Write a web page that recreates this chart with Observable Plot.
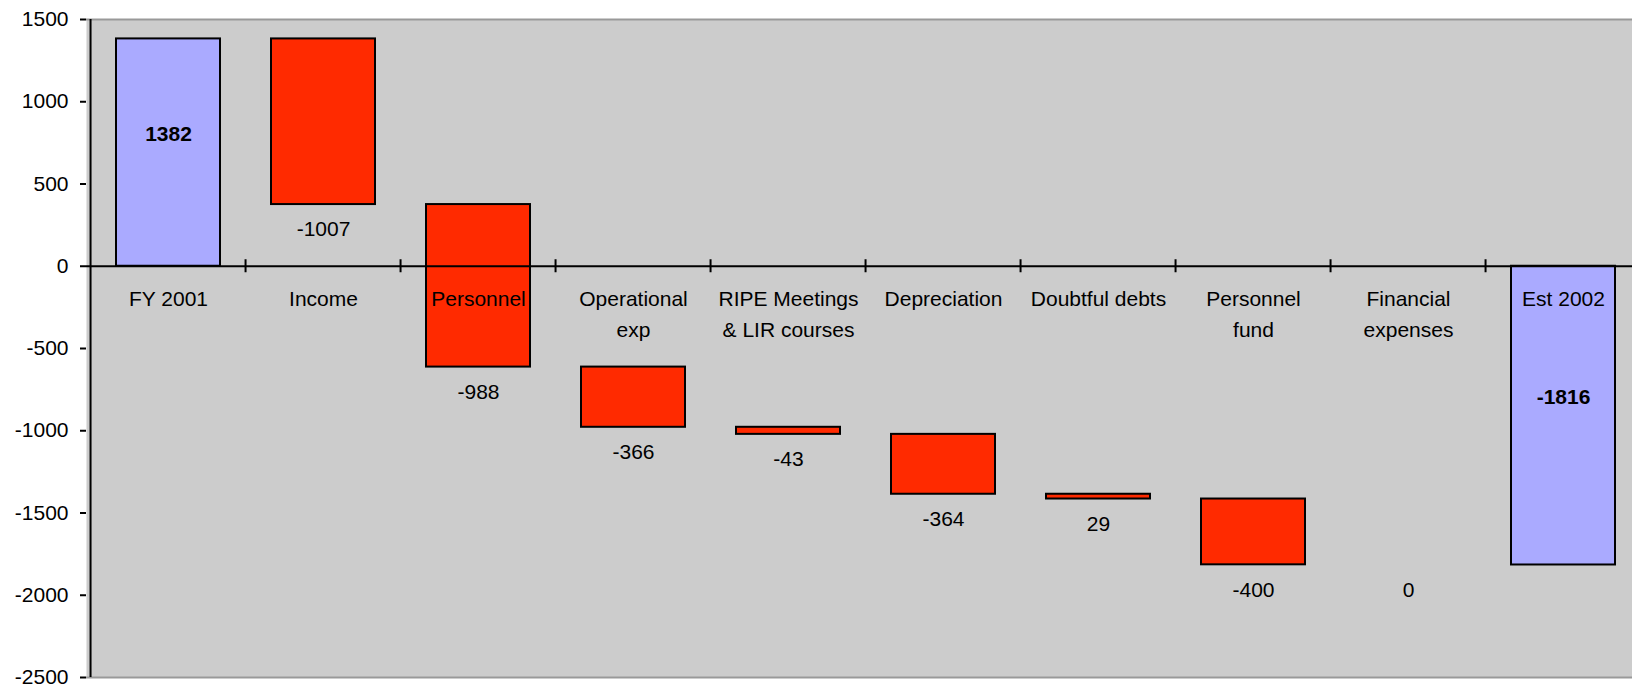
<!DOCTYPE html>
<html><head><meta charset="utf-8">
<script src="https://cdn.jsdelivr.net/npm/d3@7"></script>
<script src="https://cdn.jsdelivr.net/npm/@observablehq/plot@0.6"></script>
<style>body{margin:0;background:#fff;} svg{display:block;}</style>
</head><body><div id="chart"></div>
<script>
const categories = ["FY 2001","Income","Personnel","Operational exp","RIPE Meetings & LIR courses","Depreciation","Doubtful debts","Personnel fund","Financial expenses","Est 2002"];
const categoryLabels = ["FY 2001","Income","Personnel","Operational\nexp","RIPE Meetings\n& LIR courses","Depreciation","Doubtful debts","Personnel\nfund","Financial\nexpenses","Est 2002"];
const openingTotal = 1382;
const changes = [-1007, -988, -366, -43, -364, -29, -400, 0];
const changeLabels = ["-1007", "-988", "-366", "-43", "-364", "29", "-400", "0"];
const closingTotal = -1816;
const yTicks = [1500, 1000, 500, 0, -500, -1000, -1500, -2000, -2500];

let running = openingTotal;
const steps = changes.map((c, i) => {
  const r = {cat: categories[i + 1], y1: running, y2: running + c, label: changeLabels[i], change: c};
  running += c;
  return r;
});
const totals = [
  {cat: categories[0], y1: 0, y2: openingTotal, label: String(openingTotal)},
  {cat: categories[categories.length - 1], y1: 0, y2: closingTotal, label: String(closingTotal)}
];

const W = 1632, H = 685;
const xRange = [86, 1645];
const step = (xRange[1] - xRange[0]) / categories.length;
const font = "'Liberation Sans', Arial, sans-serif";

const chart = Plot.plot({
  width: W, height: H,
  marginLeft: 86, marginRight: 0, marginTop: 19, marginBottom: 8,
  style: {fontFamily: font, fontSize: "21px", color: "#000", background: "#fff", overflow: "visible"},
  x: {domain: categories, range: xRange, paddingInner: 0.328, paddingOuter: 0.164, align: 0.5, axis: null},
  y: {domain: [-2500, 1500], axis: null},
  marks: [
    Plot.frame({fill: "#cccccc", stroke: null}),
    Plot.ruleY([yTicks[0], yTicks[yTicks.length - 1]], {stroke: "#999999", strokeWidth: 2}),
    Plot.barY(steps.filter(d => d.change !== 0), {x: "cat", y1: "y1", y2: "y2", fill: "#ff2a00", stroke: "#000", strokeWidth: 2}),
    Plot.barY(totals, {x: "cat", y1: "y1", y2: "y2", fill: "#aaaaff", stroke: "#000", strokeWidth: 2}),
    Plot.ruleY([0], {stroke: "#000", strokeWidth: 2}),
    Plot.ruleX(categories.slice(1), {x: d => d, y1: () => 0, y2: () => 0, dx: -step / 2, insetTop: -6.5, insetBottom: -6.5, stroke: "#000", strokeWidth: 2}),
    Plot.ruleX([categories[0]], {x: d => d, dx: -step / 2, stroke: "#000", strokeWidth: 2}),
    Plot.axisY({ticks: yTicks, tickSize: 6, tickPadding: 12, tickFormat: d => String(d), fontSize: 21, stroke: "#000", strokeWidth: 2, fill: "#000"}),
    Plot.text(categories, {x: d => d, y: () => 0, text: (d, i) => categoryLabels[i], dy: 17, lineAnchor: "top", lineHeight: 1.51, fontSize: 21, fill: "#000"}),
    Plot.text(steps, {x: "cat", y: d => Math.min(d.y1, d.y2), text: "label", dy: 25, fontSize: 21, fill: "#000"}),
    Plot.text(totals, {x: "cat", y: d => (d.y1 + d.y2) / 2, text: "label", dy: -18, fontSize: 21, fontWeight: "bold", fill: "#000"})
  ]
});
document.getElementById("chart").appendChild(chart);
</script>
</body></html>
